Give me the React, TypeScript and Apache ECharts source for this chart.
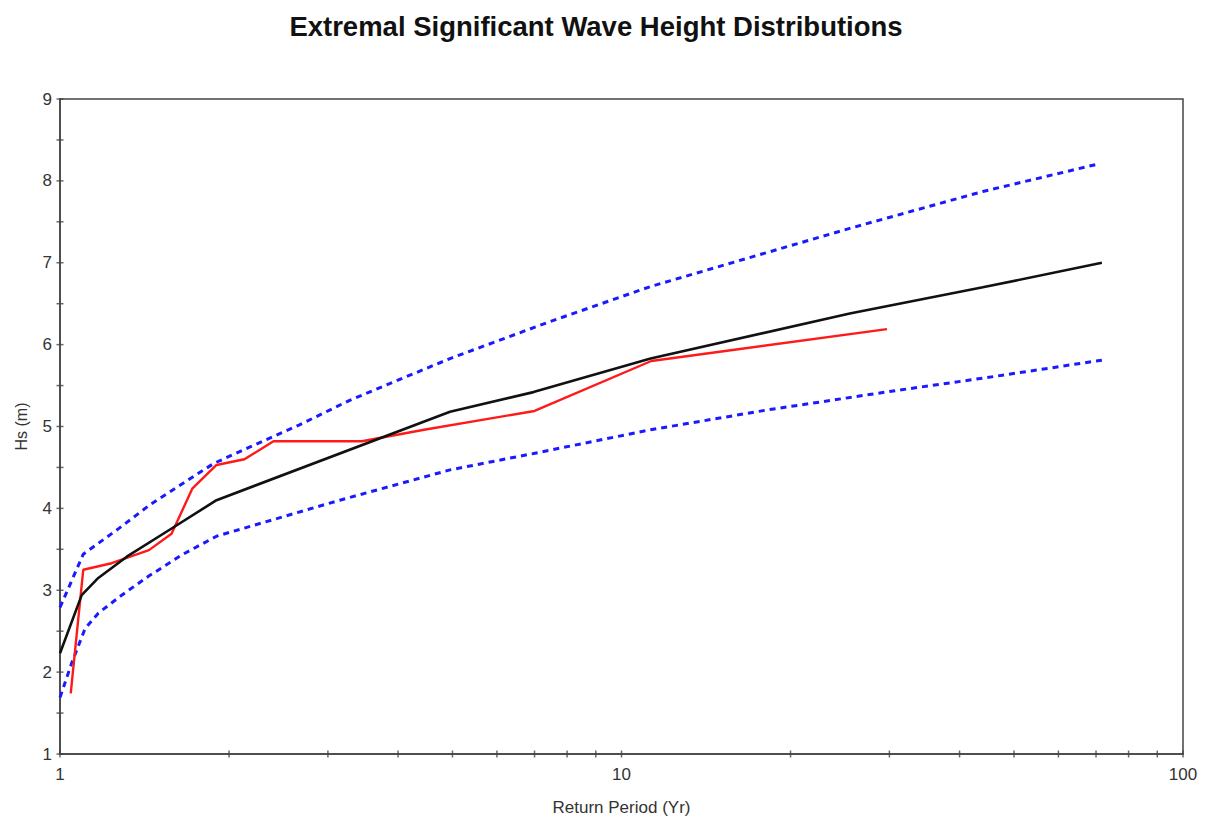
import React, { useEffect, useRef } from "react";
import * as echarts from "echarts";

// Return period (yr), Hs (m)
const fittedT = [1.0, 1.093, 1.17, 1.315, 1.56, 1.9, 4.95, 6.97, 11.27, 25.5, 44, 71.7];
const fittedHs = [2.23, 2.94, 3.15, 3.41, 3.73, 4.1, 5.18, 5.42, 5.83, 6.38, 6.7, 7.0];

const observedT = [1.045, 1.1, 1.236, 1.44, 1.58, 1.72, 1.9, 2.13, 2.4, 3.45, 4.45, 7.0, 11.3, 29.7];
const observedHs = [1.74, 3.25, 3.33, 3.49, 3.69, 4.24, 4.53, 4.6, 4.82, 4.82, 4.96, 5.19, 5.8, 6.19];

const upperT = [1.0, 1.1, 1.27, 1.45, 1.88, 2.18, 2.67, 3.28, 4.95, 7.45, 11.27, 25.5, 44, 71];
const upperHs = [2.79, 3.44, 3.75, 4.05, 4.55, 4.75, 5.02, 5.32, 5.83, 6.28, 6.71, 7.42, 7.87, 8.21];

const lowerT = [1.0, 1.049, 1.108, 1.17, 1.288, 1.437, 1.646, 1.9, 3.15, 4.95, 6.97, 11.27, 18.1, 30.9, 44, 71.7];
const lowerHs = [1.69, 2.11, 2.53, 2.72, 2.94, 3.17, 3.43, 3.66, 4.1, 4.47, 4.67, 4.96, 5.2, 5.44, 5.59, 5.81];

const xTickValues = [1, 2, 3, 4, 5, 6, 7, 8, 9, 10, 20, 30, 40, 50, 60, 70, 80, 90, 100];
const yTickValues = [1, 1.5, 2, 2.5, 3, 3.5, 4, 4.5, 5, 5.5, 6, 6.5, 7, 7.5, 8, 8.5, 9];

const zip = (a: number[], b: number[]) => a.map((v, i) => [v, b[i]]);

export default function App() {
  const ref = useRef<HTMLDivElement>(null);
  useEffect(() => {
    if (!ref.current) return;
    const chart = echarts.init(ref.current, null, { renderer: "svg" });
    const font = "Liberation Sans, Arial, sans-serif";
    const axisColor = "#444";
    chart.setOption({
      animation: false,
      backgroundColor: "#fff",
      textStyle: { fontFamily: font },
      title: {
        text: "Extremal Significant Wave Height Distributions",
        left: 591,
        top: 7,
        textAlign: "center",
        textStyle: { fontFamily: font, fontSize: 27.5, fontWeight: "bold", color: "#111" },
      },
      grid: {
        left: 60,
        right: 23,
        top: 99,
        bottom: 69,
        show: true,
        borderColor: axisColor,
        borderWidth: 1.5,
        backgroundColor: "#fff",
      },
      xAxis: {
        type: "log",
        logBase: 10,
        min: 1,
        max: 100,
        name: "Return Period (Yr)",
        nameLocation: "middle",
        nameGap: 45,
        nameTextStyle: { fontFamily: font, fontSize: 17, color: "#333" },
        axisLine: { show: true, lineStyle: { color: axisColor, width: 1.5 } },
        axisTick: { show: false },
        splitLine: { show: false },
        axisLabel: { fontFamily: font, fontSize: 17, color: "#333", margin: 12 },
      },
      yAxis: {
        type: "value",
        min: 1,
        max: 9,
        interval: 1,
        name: "Hs (m)",
        nameLocation: "middle",
        nameGap: 31,
        nameTextStyle: { fontFamily: font, fontSize: 16, color: "#333" },
        axisLine: { show: true, lineStyle: { color: axisColor, width: 1.5 } },
        axisTick: { show: false },
        splitLine: { show: false },
        axisLabel: { fontFamily: font, fontSize: 17, color: "#333", margin: 8 },
      },
      series: [
        {
          type: "scatter",
          silent: true,
          clip: false,
          symbol: "rect",
          symbolSize: [1.5, 7],
          itemStyle: { color: axisColor },
          data: xTickValues.map((v) => [v, 1]),
          z: 5,
        },
        {
          type: "scatter",
          silent: true,
          clip: false,
          symbol: "rect",
          symbolSize: [7, 1.5],
          itemStyle: { color: axisColor },
          data: yTickValues.map((v) => [1, v]),
          z: 5,
        },
        {
          type: "line",
          name: "Upper",
          data: zip(upperT, upperHs),
          showSymbol: false,
          silent: true,
          lineStyle: { color: "#1a1aff", width: 3, type: [6, 5] },
        },
        {
          type: "line",
          name: "Lower",
          data: zip(lowerT, lowerHs),
          showSymbol: false,
          silent: true,
          lineStyle: { color: "#1a1aff", width: 3, type: [6, 5] },
        },
        {
          type: "line",
          name: "Observed",
          data: zip(observedT, observedHs),
          showSymbol: false,
          silent: true,
          lineStyle: { color: "#ff1a1a", width: 2.4 },
        },
        {
          type: "line",
          name: "Fitted",
          data: zip(fittedT, fittedHs),
          showSymbol: false,
          silent: true,
          lineStyle: { color: "#111", width: 2.6 },
        },
      ],
    });
    return () => chart.dispose();
  }, []);
  return (
    <div
      ref={ref}
      style={{ position: "fixed", left: 0, top: 0, width: 1206, height: 823, background: "#fff" }}
    />
  );
}
